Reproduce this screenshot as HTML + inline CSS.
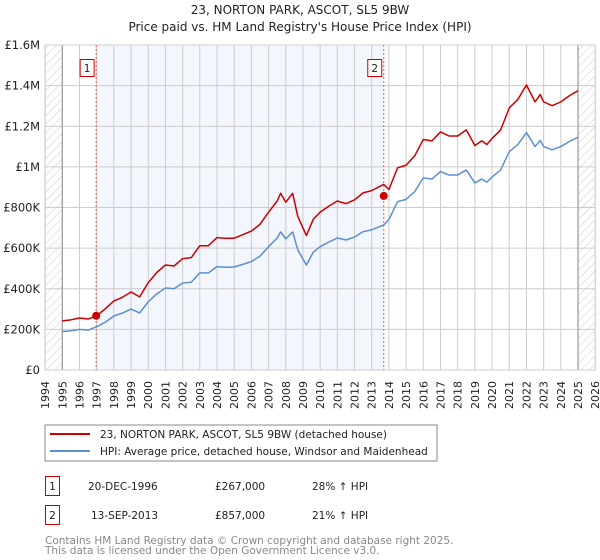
<!DOCTYPE html>
<html><head><meta charset="utf-8">
<style>
body{margin:0;background:#fff;font-family:"DejaVu Sans","Liberation Sans",sans-serif;}
#wrap{position:relative;width:600px;height:560px;overflow:hidden;}
svg text{font-family:"DejaVu Sans","Liberation Sans",sans-serif;}
</style></head>
<body>
<div id="wrap">
<svg id="chart" width="600" height="560">
<defs>
<pattern id="hatch" patternUnits="userSpaceOnUse" width="6" height="6" patternTransform="rotate(45)">
<rect width="6" height="6" fill="#fff"/><line x1="0" y1="0" x2="0" y2="6" stroke="#ccc" stroke-width="1"/>
</pattern>
</defs>
<text x="300" y="14" text-anchor="middle" font-size="12" fill="#222">23, NORTON PARK, ASCOT, SL5 9BW</text>
<text x="300" y="31" text-anchor="middle" font-size="12" fill="#222">Price paid vs. HM Land Registry's House Price Index (HPI)</text>
<g id="plot"></g>
<rect x="45" y="425" width="392" height="36" fill="#fff" stroke="#888"/>
<line x1="50" y1="434" x2="90" y2="434" stroke="#cc0000" stroke-width="2"/>
<text x="100" y="438" font-size="10.5" fill="#222">23, NORTON PARK, ASCOT, SL5 9BW (detached house)</text>
<line x1="50" y1="451" x2="90" y2="451" stroke="#5b8fd0" stroke-width="2"/>
<text x="100" y="455" font-size="10.5" fill="#222">HPI: Average price, detached house, Windsor and Maidenhead</text>
<g>
<rect x="45.5" y="476.5" width="14" height="19" fill="#fff" stroke="#cc0000"/>
<text x="52.5" y="490" text-anchor="middle" font-size="10.5" fill="#222">1</text>
<text x="88" y="490" font-size="10.5" fill="#222">20-DEC-1996</text>
<text x="215" y="490" font-size="10.5" fill="#222">£267,000</text>
<text x="312" y="490" font-size="10.5" fill="#222">28% ↑ HPI</text>
</g>
<g>
<rect x="45.5" y="505.5" width="14" height="19" fill="#fff" stroke="#cc0000"/>
<text x="52.5" y="519" text-anchor="middle" font-size="10.5" fill="#222">2</text>
<text x="91" y="519" font-size="10.5" fill="#222">13-SEP-2013</text>
<text x="215" y="519" font-size="10.5" fill="#222">£857,000</text>
<text x="312" y="519" font-size="10.5" fill="#222">21% ↑ HPI</text>
</g>
<text x="45" y="544" font-size="10.5" fill="#888">Contains HM Land Registry data © Crown copyright and database right 2025.</text>
<text x="45" y="554" font-size="10.5" fill="#888">This data is licensed under the Open Government Licence v3.0.</text>
</svg>
</div>
<script>
const hpiYears=[1995,1995.5,1996,1996.5,1997,1997.5,1998,1998.5,1999,1999.5,2000,2000.5,2001,2001.5,2002,2002.5,2003,2003.5,2004,2004.5,2005,2005.5,2006,2006.5,2007,2007.5,2007.7,2008,2008.4,2008.7,2009.2,2009.6,2010,2010.5,2011,2011.5,2012,2012.5,2013,2013.7,2014,2014.5,2015,2015.5,2016,2016.5,2017,2017.5,2018,2018.5,2019,2019.4,2019.7,2020,2020.5,2021,2021.5,2022,2022.5,2022.8,2023,2023.5,2024,2024.5,2025];
const hpiValues=[189,193,200,196,213,235,266,280,300,281,336,375,404,400,428,432,478,478,509,506,507,520,534,560,607,650,680,645,680,591,517,580,607,630,650,640,655,681,690,714,740,829,840,878,946,940,977,960,960,985,921,940,925,950,985,1075,1110,1169,1100,1130,1100,1084,1100,1125,1146];
const priceValues=[242,247,256,251,267,301,340,358,384,360,430,480,517,512,548,553,612,612,652,648,649,666,684,717,777,832,870,826,870,756,662,742,777,806,832,819,838,872,883,914,888,995,1008,1054,1135,1128,1172,1152,1152,1182,1105,1128,1110,1140,1182,1290,1332,1403,1320,1356,1320,1301,1320,1350,1375];
const sales=[{yr:1996.97,val:267,label:"1"},{yr:2013.7,val:857,label:"2"}];
const yTicks=[0,200,400,600,800,1000,1200,1400,1600];
const yTickLabels=["£0","£200K","£400K","£600K","£800K","£1M","£1.2M","£1.4M","£1.6M"];
const xTicks=[1994,1995,1996,1997,1998,1999,2000,2001,2002,2003,2004,2005,2006,2007,2008,2009,2010,2011,2012,2013,2014,2015,2016,2017,2018,2019,2020,2021,2022,2023,2024,2025,2026];

const L=45.1,R=595.2,T=45,B=370;
const x=v=>L+(v-1994)*(R-L)/32;
const y=v=>B-v*(B-T)/1600;
const NS="http://www.w3.org/2000/svg";
const g=document.getElementById('plot');
function mk(tag,attrs,parent){const e=document.createElementNS(NS,tag);for(const k in attrs)e.setAttribute(k,attrs[k]);(parent||g).appendChild(e);return e;}

let r=mk('rect',{x:L,y:T,width:R-L,height:B-T,fill:'#fff'});


r=mk('rect',{x:x(sales[0].yr),y:T,width:x(sales[1].yr)-x(sales[0].yr),height:B-T,fill:'#f0f4fc',opacity:0.8});


r=mk('rect',{x:L,y:T,width:x(1995)-L,height:B-T,fill:'url(#hatch)'});


r=mk('rect',{x:x(2025),y:T,width:R-x(2025),height:B-T,fill:'url(#hatch)'});



xTicks.forEach(t=>{
  const l=mk('line',{x1:x(t),x2:x(t),y1:T,y2:B,stroke:'#ccc','stroke-width':1});
  
  
  const tx=mk('text',{x:0,y:0,'font-size':11,fill:'#222','text-anchor':'end',transform:`translate(${x(t)+4},381) rotate(-90)`});
  tx.textContent=t;
  
  
});
yTicks.forEach((t,i)=>{
  const l=mk('line',{x1:L,x2:R,y1:y(t),y2:y(t),stroke:'#ccc','stroke-width':1});
  
  
  const tx=mk('text',{x:40,y:y(t)+4,'font-size':11.5,fill:'#222','text-anchor':'end'});
  tx.textContent=yTickLabels[i];
  
  
});
[1995,2025].forEach(t=>{
  const l=mk('line',{x1:x(t),x2:x(t),y1:T,y2:B,stroke:'#999','stroke-width':1.2});
  
  
});
const fr=mk('rect',{x:L,y:T,width:R-L,height:B-T,fill:'none',stroke:'#ccc'});



sales.forEach(s=>{
  const l=mk('line',{x1:x(s.yr),x2:x(s.yr),y1:T,y2:B,stroke:'#e06060','stroke-width':1,'stroke-dasharray':'2,2'});
  
  
  const bx=mk('rect',{x:x(s.yr)-16,y:59.5,width:14,height:17,fill:'#fff',stroke:'#cc0000'});
  
  
  const tx=mk('text',{x:x(s.yr)-9,y:72,'font-size':10.5,fill:'#222','text-anchor':'middle'});
  tx.textContent=s.label;
  
  
});

const hp=mk('polyline',{points:hpiYears.map((t,i)=>x(t)+','+y(hpiValues[i])).join(' '),fill:'none',stroke:'#5b8fd0','stroke-width':1.5,'stroke-linejoin':'round'});


const pp=mk('polyline',{points:hpiYears.map((t,i)=>x(t)+','+y(priceValues[i])).join(' '),fill:'none',stroke:'#cc0000','stroke-width':1.5,'stroke-linejoin':'round'});


sales.forEach(s=>{
  const c=mk('circle',{cx:x(s.yr),cy:y(s.val),r:4,fill:'#cc0000'});
  
  
});
</script>
</body></html>
